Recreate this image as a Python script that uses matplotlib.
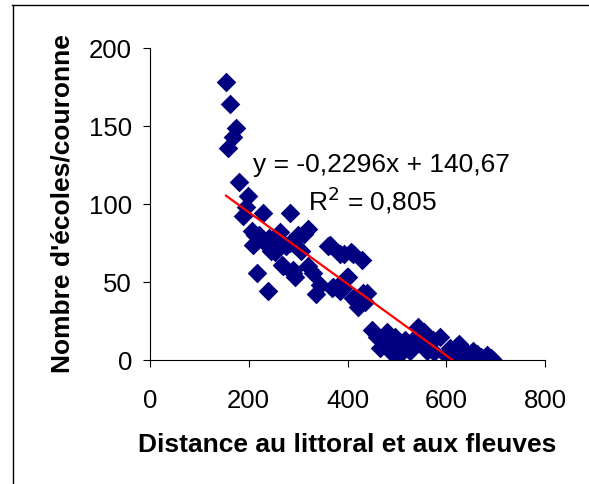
import matplotlib.pyplot as plt
import numpy as np
from matplotlib.lines import Line2D

plt.rcParams["font.family"] = ["Liberation Sans", "DejaVu Sans"]

# distance (x) and number of schools per ring (y)
distance = [154, 163, 174, 169, 157, 181, 199, 194, 188, 228, 284, 206, 209, 229,
            246, 263, 263, 284, 300, 321, 311, 294, 361, 365, 385, 392, 408, 412,
            429, 217, 238, 270, 294, 290, 290, 321, 331, 344, 337, 368, 371, 385,
            398, 402, 385, 412, 418, 435, 439, 391, 432, 422, 449, 459, 473, 493,
            496, 516, 543, 547, 554, 527, 574, 587, 608, 621, 641, 662, 682, 695,
            486, 500, 510, 530, 560, 600, 620, 650, 670, 690, 480, 465, 555, 575,
            625, 655, 213, 236, 253, 267, 221, 240, 250, 275, 305]
ecoles = [178, 164, 149, 143, 136, 114, 105, 98, 92, 94, 94, 83, 74, 76,
          70, 82, 74, 75, 80, 84, 81, 74, 73, 74, 68, 68, 69, 68,
          64, 56, 44, 60, 53, 58, 56, 60, 56, 48, 42, 46, 47, 49,
          53, 53, 44, 40, 38, 37, 43, 46, 43, 34, 19, 15, 11, 4,
          15, 13, 21, 16, 9, 6, 13, 15, 8, 9, 5, 4, 3, 0,
          8, 2, 10, 12, 6, 3, 2, 1, 2, 1, 18, 8, 18, 5,
          10, 6, 80, 75, 69, 61, 80, 78, 72, 73, 70]

slope = -0.2296
intercept = 140.67
r2 = 0.805

fig = plt.figure(figsize=(5.89, 4.84), dpi=100)
ax = fig.add_axes([150 / 589, 124 / 484, 395 / 589, 312 / 484])

ax.scatter(distance, ecoles, marker="D", s=100, color="#000080", linewidths=0, zorder=2)

xs = np.array([min(distance), max(distance)])
ax.plot(xs, slope * xs + intercept, color="red", lw=1.6, zorder=3)

ax.set_xlim(0, 800)
ax.set_ylim(0, 200)
ax.set_xticks([0, 200, 400, 600, 800])
ax.set_yticks([0, 50, 100, 150, 200])
ax.spines["top"].set_visible(False)
ax.spines["right"].set_visible(False)
ax.tick_params(labelsize=18.5, length=5, direction="out")
ax.tick_params(axis="y", pad=8)
ax.tick_params(axis="x", pad=16)
ax.set_xlabel("Distance au littoral et aux fleuves", fontsize=19, fontweight="bold", labelpad=14)
ax.set_ylabel("Nombre d'écoles/couronne", fontsize=19, fontweight="bold", labelpad=10)

ax.text(0.585, 0.625, "y = -0,2296x + 140,67", transform=ax.transAxes,
        fontsize=19, ha="center", va="center")
ax.text(0.562, 0.513, "R$^2$ = 0,805", transform=ax.transAxes,
        fontsize=19, ha="center", va="center")

# outer chart border (top and left visible)
fig.add_artist(Line2D([12 / 589, 1], [1 - 5 / 484, 1 - 5 / 484], color="black", lw=1))
fig.add_artist(Line2D([13 / 589, 13 / 589], [0, 1 - 5 / 484], color="black", lw=1))

fig.savefig("out.png", dpi=100)
